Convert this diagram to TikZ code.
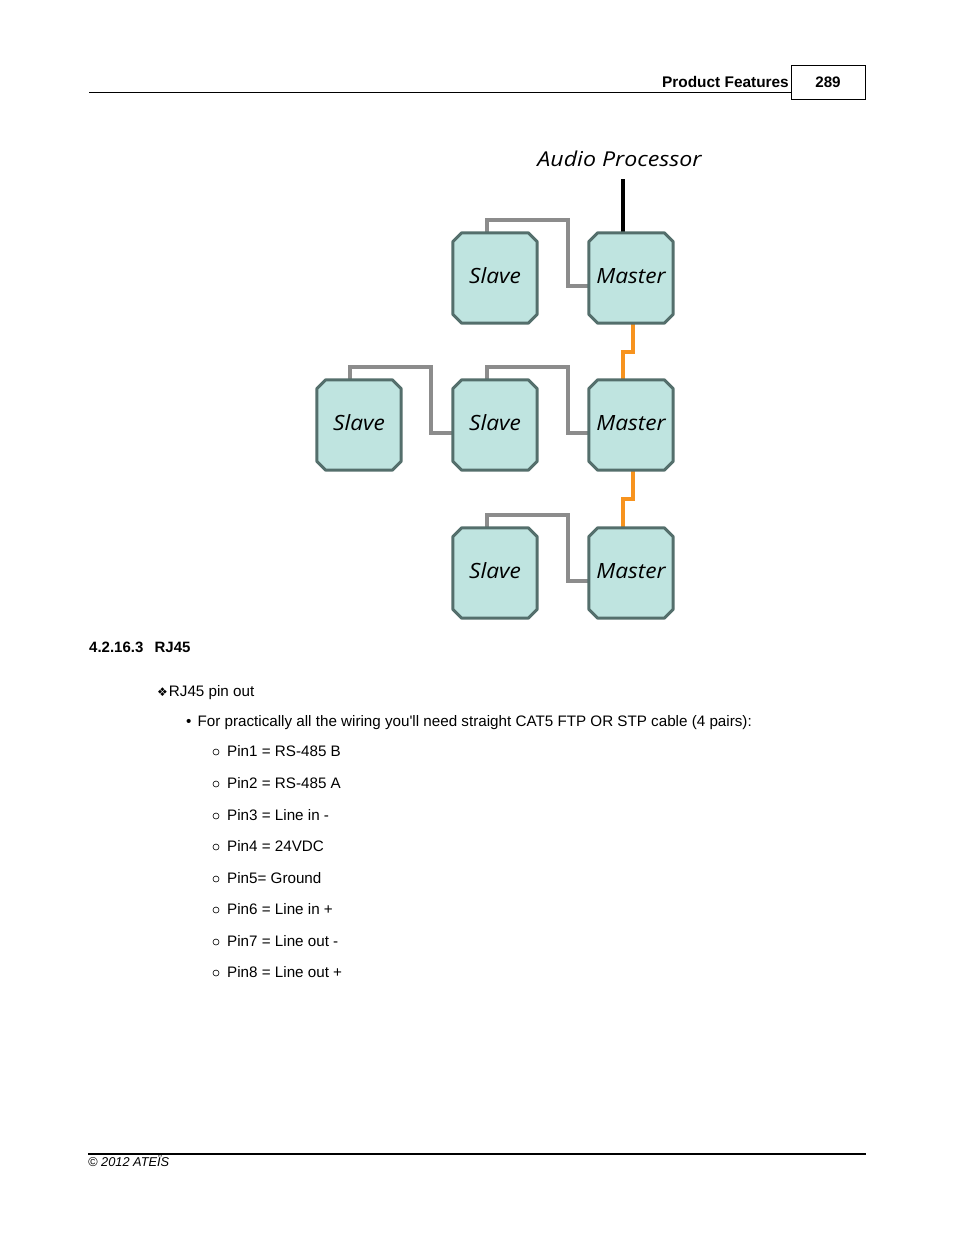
\documentclass[tikz,border=0pt]{standalone}
\usepackage{fontspec}
\setmainfont{Liberation Sans}
\newfontfamily\diagfont[FakeStretch=1.08]{Open Sans}
\newfontfamily\apfont[FakeStretch=1.13]{Open Sans}
\newfontfamily\symfont{DejaVu Sans}
\usetikzlibrary{calc,backgrounds}
\definecolor{boxfill}{HTML}{BFE4E0}
\definecolor{boxdraw}{HTML}{546F6C}
\definecolor{wiregray}{HTML}{8C8C8C}
\definecolor{wireorange}{HTML}{F7931E}
\tikzset{
  unit/.style={rectangle, minimum width=84pt, minimum height=90pt,
    inner sep=0pt, font=\diagfont\itshape\fontsize{21}{24}\selectfont},
  boxline/.style={draw=boxdraw, fill=boxfill, line width=3pt, line join=round},
  graywire/.style={draw=wiregray, line width=4pt},
  orangewire/.style={draw=wireorange, line width=4pt},
  blackwire/.style={draw=black, line width=4pt},
  txt/.style={anchor=base west, inner sep=0pt, font=\fontsize{15.2}{18}\selectfont},
  ring/.style={circle, draw, line width=0.6pt, minimum size=6pt, inner sep=0pt},
}
\begin{document}
\begin{tikzpicture}[x=1pt,y=-1pt]
\useasboundingbox (0,0) rectangle (954,1235);
% header
\draw[line width=1pt] (89,92.5) -- (791,92.5);
\node[draw, line width=1pt, minimum width=74pt, minimum height=34pt, inner sep=0pt,
  font=\bfseries\fontsize{15.2}{18}\selectfont] (pagebox) at (828,82) {289};
\node[anchor=base east, inner sep=0pt, font=\bfseries\fontsize{15.4}{18}\selectfont] (hdr) at (789,87) {Product Features};
% diagram
\node[anchor=base, inner sep=0pt, font=\apfont\itshape\fontsize{20.5}{24}\selectfont] (ap) at (619.5,166) {Audio Processor};
\node[unit] (s1) at (495,278) {};
\node[unit] (m1) at (631,278) {};
\node[unit] (s2a) at (359,425) {};
\node[unit] (s2b) at (495,425) {};
\node[unit] (m2) at (631,425) {};
\node[unit] (s3) at (495,573) {};
\node[unit] (m3) at (631,573) {};
\foreach \n/\t in {s1/Slave,m1/Master,s2a/Slave,s2b/Slave,m2/Master,s3/Slave,m3/Master} {
  \node[unit, minimum width=0pt, minimum height=0pt] (\n-label) at ($(\n.center)+(0,-2)$) {\t};
}
\coordinate (apin) at (623,179);
\begin{scope}[on background layer]
\draw[blackwire] (apin) -- ($(m1.north)+(-8,0)$);
\draw[graywire] ($(s1.north)+(-8,0)$) -- ++(0,-13) -| ($(m1.west)+(-21,8)$) -- ($(m1.west)+(0,8)$);
\draw[graywire] ($(s2a.north)+(-9,0)$) -- ++(0,-13) -| ($(s2b.west)+(-22,8)$) -- ($(s2b.west)+(0,8)$);
\draw[graywire] ($(s2b.north)+(-8,0)$) -- ++(0,-13) -| ($(m2.west)+(-21,8)$) -- ($(m2.west)+(0,8)$);
\draw[graywire] ($(s3.north)+(-8,0)$) -- ++(0,-13) -| ($(m3.west)+(-21,8)$) -- ($(m3.west)+(0,8)$);
\draw[orangewire] ($(m1.south)+(2,0)$) -- ++(0,29) -| ($(m2.north)+(-8,0)$);
\draw[orangewire] ($(m2.south)+(2,0)$) -- ++(0,29) -| ($(m3.north)+(-8,0)$);
\foreach \n in {s1,m1,s2a,s2b,m2,s3,m3} {
  \draw[boxline] ($(\n.north west)+(9,0)$) -- ($(\n.north east)+(-9,0)$) -- ($(\n.north east)+(0,9)$)
    -- ($(\n.south east)+(0,-9)$) -- ($(\n.south east)+(-9,0)$) -- ($(\n.south west)+(9,0)$)
    -- ($(\n.south west)+(0,-9)$) -- ($(\n.north west)+(0,9)$) -- cycle;
}
\end{scope}
% text
\node[txt, font=\bfseries\fontsize{15}{18}\selectfont] (sec) at (89,652) {4.2.16.3\hspace{0.75em}RJ45};
\node[txt] (pin) at (157,696) {{\symfont\fontsize{12}{14}\selectfont ❖}\hspace{1pt}RJ45 pin out};
\node[txt] (bul) at (186,726) {•\hspace{0.4em}For practically all the wiring you\textquotesingle ll need straight CAT5 FTP OR STP cable (4 pairs):};
\foreach \y/\t [count=\i] in {756/{Pin1 = RS-485 B},788/{Pin2 = RS-485 A},820/{Pin3 = Line in -},851/{Pin4 = 24VDC},883/{Pin5= Ground},914/{Pin6 = Line in +},946/{Pin7 = Line out -},977/{Pin8 = Line out +}}{
  \node[ring] (r\i) at (216,\y-4) {};
  \node[txt] (p\i) at (227,\y) {\t};
}
% footer
\draw[line width=2pt] (88,1154) -- (866,1154);
\node[anchor=base west, inner sep=0pt, font=\itshape\fontsize{12.8}{14}\selectfont] (ft) at (88,1166.5) {© 2012 ATEÏS};
\end{tikzpicture}
\end{document}
